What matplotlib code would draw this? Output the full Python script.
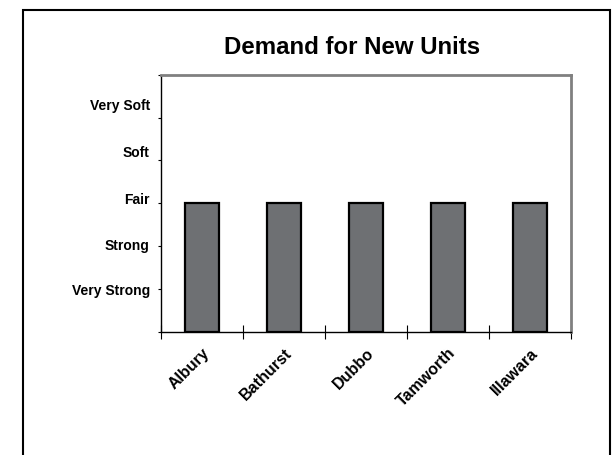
import matplotlib
matplotlib.use("Agg")
import matplotlib.pyplot as plt
from matplotlib.patches import Rectangle
import numpy as np

categories = ["Albury", "Bathurst", "Dubbo", "Tamworth", "Illawara"]
values = [3, 3, 3, 3, 3]
level_labels = ["Very Strong", "Strong", "Fair", "Soft", "Very Soft"]
level_values = [1, 2, 3, 4, 5]

plt.rcParams['font.family'] = ['Liberation Sans', 'DejaVu Sans']

fig = plt.figure(figsize=(6.14, 4.56), dpi=100)
fig.patch.set_facecolor('white')

# outer frame
fig.patches.append(Rectangle((23/614, -0.05), (610-23)/614, 1.05 - 10.5/456,
                             transform=fig.transFigure, fill=False,
                             edgecolor='black', linewidth=1.5))

ax = fig.add_axes([161/614, 1-332.7/456, (571-161)/614, (332.7-75.7)/456])
ax.yaxis.remove_overlapping_locs = False
ax.xaxis.remove_overlapping_locs = False
x = np.arange(len(categories))
ax.bar(x, values, width=0.41, color='#6e7073', edgecolor='black', linewidth=1.6, zorder=3)

ax.set_xlim(-0.5, len(categories) - 0.5)
ax.set_ylim(0, 6)

# y ticks: marks at every unit, labels slightly offset like Excel
ax.set_yticks(np.arange(0, 7))
ax.set_yticklabels([])
ax.tick_params(axis='y', which='major', length=2, width=0.8, direction='out')
label_pos = [1.0, 2.05, 3.13, 4.22, 5.32]
ax.set_yticks(label_pos, minor=True)
ax.set_yticklabels(level_labels, minor=True, fontsize=10, fontweight='bold')
ax.tick_params(axis='y', which='minor', length=0, pad=8)

# x ticks at category boundaries, crossing
ax.set_xticks(np.arange(-0.5, len(categories), 1.0))
ax.set_xticklabels([])
ax.tick_params(axis='x', which='major', length=10, width=0.8, direction='inout')
ax.set_xticks(x, minor=True)
ax.set_xticklabels(categories, minor=True, fontsize=11.5, fontweight='bold',
                   rotation=45, ha='right', va='top', rotation_mode='anchor')
ax.tick_params(axis='x', which='minor', length=0, pad=9)

for s in ['top', 'right']:
    ax.spines[s].set_color('#808080')
    ax.spines[s].set_linewidth(2)
for s in ['left', 'bottom']:
    ax.spines[s].set_color('black')
    ax.spines[s].set_linewidth(1)

fig.text(352.5/614, 1-48/456, "Demand for New Units", ha='center', va='center',
         fontsize=17.3, fontweight='bold')

fig.savefig("out.png", dpi=100, facecolor='white')
